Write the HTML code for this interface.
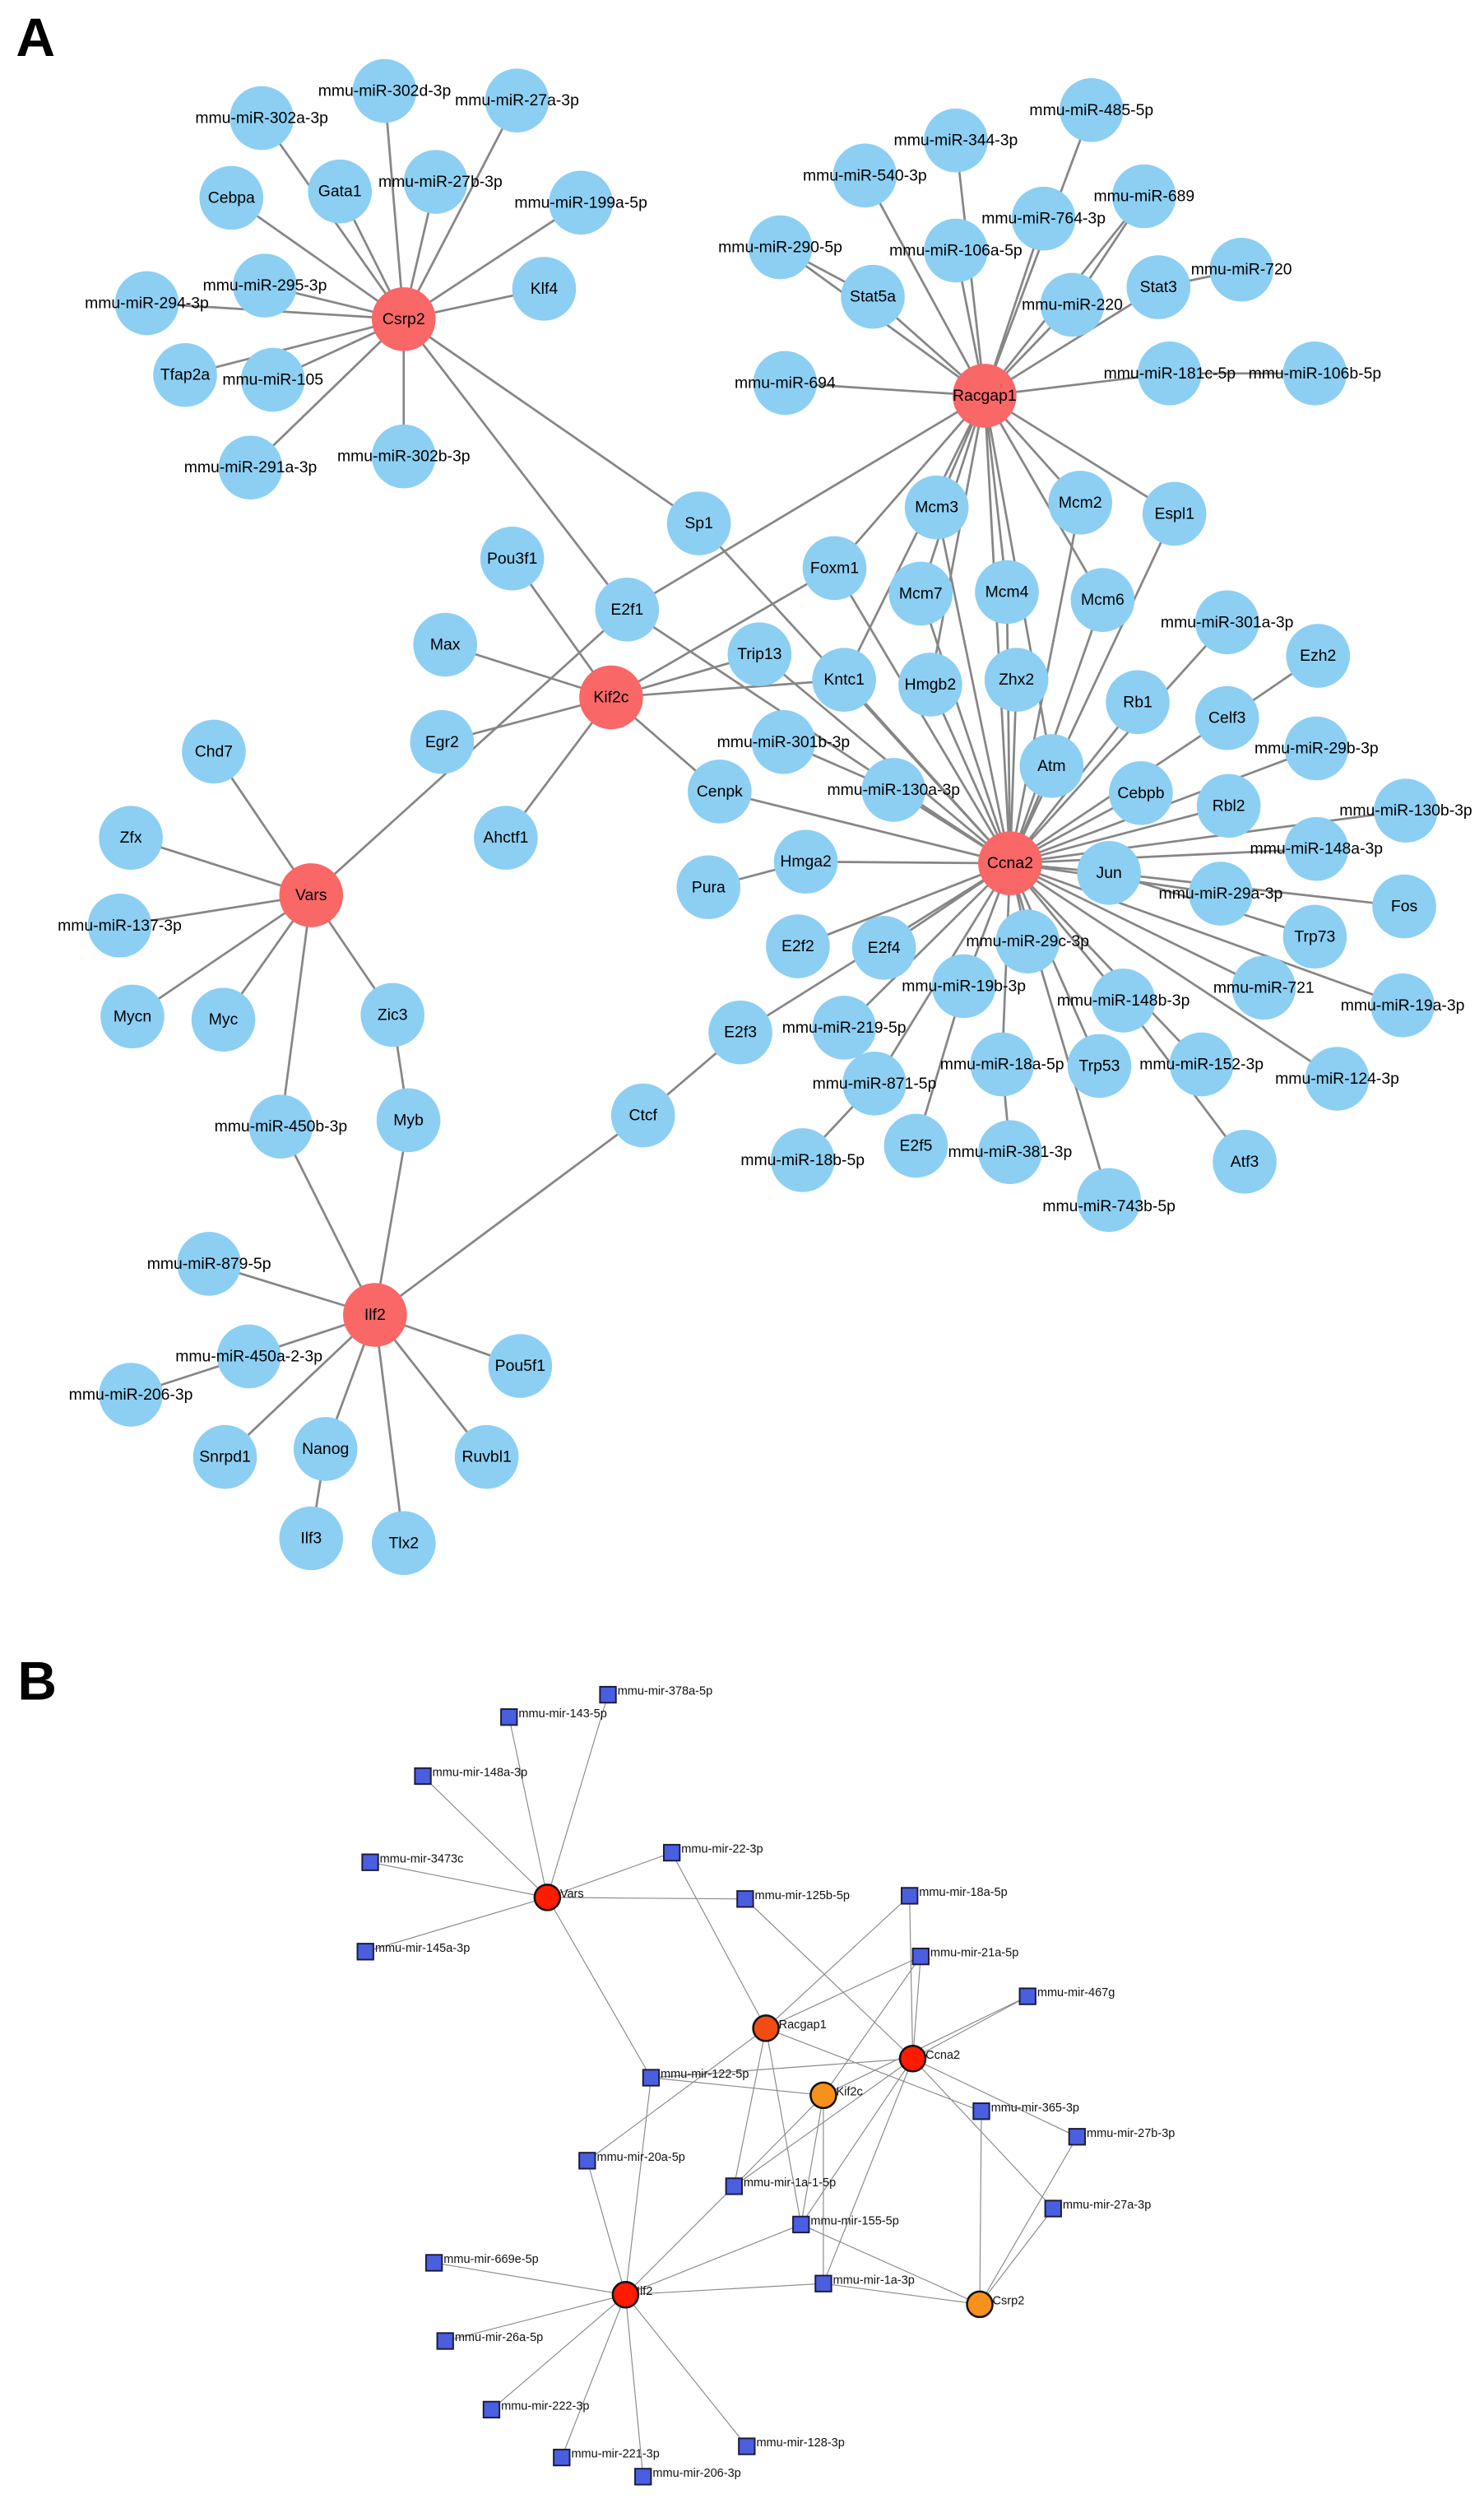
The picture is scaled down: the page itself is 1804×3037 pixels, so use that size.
<!DOCTYPE html>
<html><head><meta charset="utf-8"><style>
html,body{margin:0;padding:0;background:#fff}
svg{display:block}
text{font-family:"Liberation Sans",Arial,sans-serif}
</style></head><body>
<svg width="1804" height="3037" viewBox="0 0 930 1566" preserveAspectRatio="none" xmlns="http://www.w3.org/2000/svg">
<rect width="930" height="1566" fill="#fff"/>
<text x="10" y="35" font-size="34" font-weight="bold">A</text>
<text x="11" y="1065" font-size="34" font-weight="bold">B</text>

<g stroke="#868686" stroke-width="1.4" fill="none">
<!-- Csrp2 -->
<path d="M253,200L164,74M253,200L241,57M253,200L324,63M253,200L145,124M253,200L213,120M253,200L273,114M253,200L364,127M253,200L166,179M253,200L92,190M253,200L341,181M253,200L116,235M253,200L171,238M253,200L157,293M253,200L253,286M253,200L438,328M253,200L393,382"/>
<!-- Racgap1 -->
<path d="M617,248L684,69M617,248L599,88M617,248L542,110M617,248L717,123M617,248L654,137M617,248L489,155M617,248L599,157M617,248L547,186M617,248L726,180M617,248L672,191M617,248L492,240M617,248L733,234M733,234L824,234M726,180L778,169M547,186L489,155M672,191L717,123M617,248L587,318M617,248L677,315M617,248L736,322M617,248L691,376M617,248L523,356M617,248L393,382M617,248L631,371M617,248L577,372M617,248L583,429M617,248L633,541M617,248L529,426M617,248L659,480"/>
<!-- Kif2c -->
<path d="M383,437L321,350M383,437L279,404M383,437L277,465M383,437L317,525M383,437L451,496M383,437L476,410M383,437L529,426M383,437L523,356"/>
<!-- Ccna2 -->
<path d="M633,541L587,318M633,541L577,372M633,541L631,371M633,541L677,315M633,541L691,376M633,541L736,322M633,541L583,429M633,541L637,426M633,541L659,480M633,541L713,440M633,541L769,390M633,541L769,450M769,450L826,411M633,541L715,497M633,541L825,469M633,541L770,505M633,541L881,508M633,541L825,532M633,541L695,547M695,547L880,568M695,547L824,587M633,541L765,560M633,541L792,619M633,541L879,630M633,541L838,676M633,541L753,667M633,541L704,627M704,627L780,728M633,541L689,668M633,541L695,752M633,541L628,667M628,667L633,722M633,541L644,590M633,541L604,618M604,618L574,718M633,541L529,644M633,541L548,679M548,679L503,727M633,541L554,594M633,541L500,593M633,541L464,647M633,541L505,540M505,540L444,556M633,541L451,496M633,541L560,495M560,495L491,465M633,541L529,426M633,541L476,410M633,541L523,356M633,541L438,328M633,541L393,382"/>
<!-- Vars / Ilf2 -->
<path d="M195,561L134,471M195,561L82,525M195,561L75,580M195,561L83,637M195,561L140,639M195,561L246,636M246,636L256,702M195,561L176,706M195,561L393,382M235,824L176,706M235,824L256,702M235,824L403,699M403,699L464,647M235,824L131,792M235,824L156,850M156,850L82,874M235,824L326,856M235,824L141,913M235,824L204,908M204,908L195,964M235,824L253,967M235,824L305,913"/>
</g>

<g fill="#8ccff3">
<circle cx="164" cy="74" r="20"/><circle cx="241" cy="57" r="20"/><circle cx="324" cy="63" r="20"/><circle cx="145" cy="124" r="20"/><circle cx="213" cy="120" r="20"/><circle cx="273" cy="114" r="20"/><circle cx="364" cy="127" r="20"/><circle cx="166" cy="179" r="20"/><circle cx="92" cy="190" r="20"/><circle cx="341" cy="181" r="20"/><circle cx="116" cy="235" r="20"/><circle cx="171" cy="238" r="20"/><circle cx="157" cy="293" r="20"/><circle cx="253" cy="286" r="20"/><circle cx="438" cy="328" r="20"/><circle cx="393" cy="382" r="20"/>
<circle cx="684" cy="69" r="20"/><circle cx="599" cy="88" r="20"/><circle cx="542" cy="110" r="20"/><circle cx="717" cy="123" r="20"/><circle cx="654" cy="137" r="20"/><circle cx="489" cy="155" r="20"/><circle cx="599" cy="157" r="20"/><circle cx="547" cy="186" r="20"/><circle cx="778" cy="169" r="20"/><circle cx="726" cy="180" r="20"/><circle cx="672" cy="191" r="20"/><circle cx="492" cy="240" r="20"/><circle cx="733" cy="234" r="20"/><circle cx="824" cy="234" r="20"/>
<circle cx="587" cy="318" r="20"/><circle cx="677" cy="315" r="20"/><circle cx="736" cy="322" r="20"/><circle cx="523" cy="356" r="20"/><circle cx="577" cy="372" r="20"/><circle cx="631" cy="371" r="20"/><circle cx="691" cy="376" r="20"/>
<circle cx="321" cy="350" r="20"/><circle cx="279" cy="404" r="20"/><circle cx="277" cy="465" r="20"/><circle cx="317" cy="525" r="20"/><circle cx="476" cy="410" r="20"/><circle cx="529" cy="426" r="20"/><circle cx="583" cy="429" r="20"/><circle cx="637" cy="426" r="20"/><circle cx="659" cy="480" r="20"/><circle cx="713" cy="440" r="20"/><circle cx="769" cy="390" r="20"/><circle cx="826" cy="411" r="20"/><circle cx="769" cy="450" r="20"/><circle cx="825" cy="469" r="20"/><circle cx="715" cy="497" r="20"/><circle cx="770" cy="505" r="20"/><circle cx="881" cy="508" r="20"/><circle cx="825" cy="532" r="20"/><circle cx="491" cy="465" r="20"/><circle cx="560" cy="495" r="20"/><circle cx="451" cy="496" r="20"/><circle cx="505" cy="540" r="20"/><circle cx="444" cy="556" r="20"/><circle cx="695" cy="547" r="20"/><circle cx="880" cy="568" r="20"/><circle cx="765" cy="560" r="20"/><circle cx="824" cy="587" r="20"/><circle cx="792" cy="619" r="20"/><circle cx="879" cy="630" r="20"/><circle cx="838" cy="676" r="20"/><circle cx="753" cy="667" r="20"/><circle cx="780" cy="728" r="20"/><circle cx="704" cy="627" r="20"/><circle cx="689" cy="668" r="20"/><circle cx="695" cy="752" r="20"/><circle cx="628" cy="667" r="20"/><circle cx="633" cy="722" r="20"/><circle cx="574" cy="718" r="20"/><circle cx="644" cy="590" r="20"/><circle cx="604" cy="618" r="20"/><circle cx="529" cy="644" r="20"/><circle cx="548" cy="679" r="20"/><circle cx="503" cy="727" r="20"/><circle cx="554" cy="594" r="20"/><circle cx="500" cy="593" r="20"/><circle cx="464" cy="647" r="20"/>
<circle cx="134" cy="471" r="20"/><circle cx="82" cy="525" r="20"/><circle cx="75" cy="580" r="20"/><circle cx="83" cy="637" r="20"/><circle cx="140" cy="639" r="20"/><circle cx="246" cy="636" r="20"/><circle cx="176" cy="706" r="20"/><circle cx="256" cy="702" r="20"/><circle cx="403" cy="699" r="20"/><circle cx="131" cy="792" r="20"/><circle cx="156" cy="850" r="20"/><circle cx="82" cy="874" r="20"/><circle cx="326" cy="856" r="20"/><circle cx="141" cy="913" r="20"/><circle cx="204" cy="908" r="20"/><circle cx="195" cy="964" r="20"/><circle cx="253" cy="967" r="20"/><circle cx="305" cy="913" r="20"/>
</g>
<g fill="#f96767">
<circle cx="253" cy="200" r="20"/><circle cx="617" cy="248" r="20"/><circle cx="383" cy="437" r="20"/><circle cx="633" cy="541" r="20"/><circle cx="195" cy="561" r="20"/><circle cx="235" cy="824" r="20"/>
</g>

<g font-size="10" text-anchor="middle" fill="#000" dominant-baseline="central">
<text x="253" y="200">Csrp2</text><text x="617" y="248">Racgap1</text><text x="383" y="437">Kif2c</text><text x="633" y="541">Ccna2</text><text x="195" y="561">Vars</text><text x="235" y="824">Ilf2</text>
<text x="164" y="74">mmu-miR-302a-3p</text><text x="241" y="57">mmu-miR-302d-3p</text><text x="324" y="63">mmu-miR-27a-3p</text><text x="145" y="124">Cebpa</text><text x="213" y="120">Gata1</text><text x="276" y="114">mmu-miR-27b-3p</text><text x="364" y="127">mmu-miR-199a-5p</text><text x="166" y="179">mmu-miR-295-3p</text><text x="92" y="190">mmu-miR-294-3p</text><text x="341" y="181">Klf4</text><text x="116" y="235">Tfap2a</text><text x="171" y="238">mmu-miR-105</text><text x="157" y="293">mmu-miR-291a-3p</text><text x="253" y="286">mmu-miR-302b-3p</text><text x="438" y="328">Sp1</text><text x="393" y="382">E2f1</text>
<text x="684" y="69">mmu-miR-485-5p</text><text x="599" y="88">mmu-miR-344-3p</text><text x="542" y="110">mmu-miR-540-3p</text><text x="717" y="123">mmu-miR-689</text><text x="654" y="137">mmu-miR-764-3p</text><text x="489" y="155">mmu-miR-290-5p</text><text x="599" y="157">mmu-miR-106a-5p</text><text x="547" y="186">Stat5a</text><text x="778" y="169">mmu-miR-720</text><text x="726" y="180">Stat3</text><text x="672" y="191">mmu-miR-220</text><text x="492" y="240">mmu-miR-694</text><text x="733" y="234">mmu-miR-181c-5p</text><text x="824" y="234">mmu-miR-106b-5p</text>
<text x="587" y="318">Mcm3</text><text x="677" y="315">Mcm2</text><text x="736" y="322">Espl1</text><text x="523" y="356">Foxm1</text><text x="577" y="372">Mcm7</text><text x="631" y="371">Mcm4</text><text x="691" y="376">Mcm6</text>
<text x="321" y="350">Pou3f1</text><text x="279" y="404">Max</text><text x="277" y="465">Egr2</text><text x="317" y="525">Ahctf1</text><text x="476" y="410">Trip13</text><text x="529" y="426">Kntc1</text><text x="583" y="429">Hmgb2</text><text x="637" y="426">Zhx2</text><text x="659" y="480">Atm</text><text x="713" y="440">Rb1</text><text x="769" y="390">mmu-miR-301a-3p</text><text x="826" y="411">Ezh2</text><text x="769" y="450">Celf3</text><text x="825" y="469">mmu-miR-29b-3p</text><text x="715" y="497">Cebpb</text><text x="770" y="505">Rbl2</text><text x="881" y="508">mmu-miR-130b-3p</text><text x="825" y="532">mmu-miR-148a-3p</text><text x="491" y="465">mmu-miR-301b-3p</text><text x="560" y="495">mmu-miR-130a-3p</text><text x="451" y="496">Cenpk</text><text x="505" y="540">Hmga2</text><text x="444" y="556">Pura</text><text x="695" y="547">Jun</text><text x="880" y="568">Fos</text><text x="765" y="560">mmu-miR-29a-3p</text><text x="824" y="587">Trp73</text><text x="792" y="619">mmu-miR-721</text><text x="879" y="630">mmu-miR-19a-3p</text><text x="838" y="676">mmu-miR-124-3p</text><text x="753" y="667">mmu-miR-152-3p</text><text x="780" y="728">Atf3</text><text x="704" y="627">mmu-miR-148b-3p</text><text x="689" y="668">Trp53</text><text x="695" y="756">mmu-miR-743b-5p</text><text x="628" y="667">mmu-miR-18a-5p</text><text x="633" y="722">mmu-miR-381-3p</text><text x="574" y="718">E2f5</text><text x="644" y="590">mmu-miR-29c-3p</text><text x="604" y="618">mmu-miR-19b-3p</text><text x="529" y="644">mmu-miR-219-5p</text><text x="548" y="679">mmu-miR-871-5p</text><text x="503" y="727">mmu-miR-18b-5p</text><text x="554" y="594">E2f4</text><text x="500" y="593">E2f2</text><text x="464" y="647">E2f3</text>
<text x="134" y="471">Chd7</text><text x="82" y="525">Zfx</text><text x="75" y="580">mmu-miR-137-3p</text><text x="83" y="637">Mycn</text><text x="140" y="639">Myc</text><text x="246" y="636">Zic3</text><text x="176" y="706">mmu-miR-450b-3p</text><text x="256" y="702">Myb</text><text x="403" y="699">Ctcf</text><text x="131" y="792">mmu-miR-879-5p</text><text x="156" y="850">mmu-miR-450a-2-3p</text><text x="82" y="874">mmu-miR-206-3p</text><text x="326" y="856">Pou5f1</text><text x="141" y="913">Snrpd1</text><text x="204" y="908">Nanog</text><text x="195" y="964">Ilf3</text><text x="253" y="967">Tlx2</text><text x="305" y="913">Ruvbl1</text>
</g>

<!-- Panel B -->
<g stroke="#8a8a8a" stroke-width="0.6" fill="none">
<path d="M343,1189L381,1062M343,1189L319,1076M343,1189L265,1113M343,1189L232,1167M343,1189L421,1161M343,1189L467,1190M343,1189L229,1223M343,1189L408,1302
M480,1271L421,1161M480,1271L570,1188M480,1271L577,1226M480,1271L615,1323M480,1271L368,1354M480,1271L460,1370M480,1271L502,1394
M572,1290L467,1190M572,1290L570,1188M572,1290L577,1226M572,1290L644,1251M572,1290L408,1302M572,1290L675,1339M572,1290L660,1384M572,1290L460,1370M572,1290L502,1394M572,1290L516,1431
M516,1313L408,1302M516,1313L577,1226M516,1313L644,1251M516,1313L460,1370M516,1313L502,1394M516,1313L516,1431
M392,1438L408,1302M392,1438L368,1354M392,1438L460,1370M392,1438L502,1394M392,1438L516,1431M392,1438L272,1418M392,1438L279,1467M392,1438L308,1510M392,1438L352,1540M392,1438L403,1552M392,1438L468,1533
M614,1444L516,1431M614,1444L502,1394M614,1444L615,1323M614,1444L675,1339M614,1444L660,1384"/>
</g>
<g fill="#4a5ee0" stroke="#1b1b3a" stroke-width="1">
<rect x="376" y="1057" width="10" height="10"/><rect x="314" y="1071" width="10" height="10"/><rect x="260" y="1108" width="10" height="10"/><rect x="227" y="1162" width="10" height="10"/><rect x="416" y="1156" width="10" height="10"/><rect x="462" y="1185" width="10" height="10"/><rect x="565" y="1183" width="10" height="10"/><rect x="224" y="1218" width="10" height="10"/><rect x="572" y="1221" width="10" height="10"/><rect x="639" y="1246" width="10" height="10"/><rect x="403" y="1297" width="10" height="10"/><rect x="610" y="1318" width="10" height="10"/><rect x="670" y="1334" width="10" height="10"/><rect x="363" y="1349" width="10" height="10"/><rect x="455" y="1365" width="10" height="10"/><rect x="655" y="1379" width="10" height="10"/><rect x="497" y="1389" width="10" height="10"/><rect x="267" y="1413" width="10" height="10"/><rect x="511" y="1426" width="10" height="10"/><rect x="274" y="1462" width="10" height="10"/><rect x="303" y="1505" width="10" height="10"/><rect x="347" y="1535" width="10" height="10"/><rect x="463" y="1528" width="10" height="10"/><rect x="398" y="1547" width="10" height="10"/>
</g>
<g stroke="#111" stroke-width="1.3">
<circle cx="343" cy="1189" r="8" fill="#ff1a00"/><circle cx="480" cy="1271" r="8" fill="#f04c14"/><circle cx="572" cy="1290" r="8" fill="#ff1a00"/><circle cx="516" cy="1313" r="8" fill="#f7901c"/><circle cx="392" cy="1438" r="8" fill="#ff1a00"/><circle cx="614" cy="1444" r="8" fill="#f7901c"/>
</g>
<g font-size="7.5" fill="#111" dominant-baseline="central">
<text x="351" y="1187">Vars</text><text x="488" y="1269">Racgap1</text><text x="580" y="1288">Ccna2</text><text x="524" y="1311">Kif2c</text><text x="399" y="1436">Ilf2</text><text x="622" y="1442">Csrp2</text>
<text x="387" y="1060">mmu-mir-378a-5p</text><text x="325" y="1074">mmu-mir-143-5p</text><text x="271" y="1111">mmu-mir-148a-3p</text><text x="238" y="1165">mmu-mir-3473c</text><text x="427" y="1159">mmu-mir-22-3p</text><text x="473" y="1188">mmu-mir-125b-5p</text><text x="576" y="1186">mmu-mir-18a-5p</text><text x="235" y="1221">mmu-mir-145a-3p</text><text x="583" y="1224">mmu-mir-21a-5p</text><text x="650" y="1249">mmu-mir-467g</text><text x="414" y="1300">mmu-mir-122-5p</text><text x="621" y="1321">mmu-mir-365-3p</text><text x="681" y="1337">mmu-mir-27b-3p</text><text x="374" y="1352">mmu-mir-20a-5p</text><text x="466" y="1368">mmu-mir-1a-1-5p</text><text x="666" y="1382">mmu-mir-27a-3p</text><text x="508" y="1392">mmu-mir-155-5p</text><text x="278" y="1416">mmu-mir-669e-5p</text><text x="522" y="1429">mmu-mir-1a-3p</text><text x="285" y="1465">mmu-mir-26a-5p</text><text x="314" y="1508">mmu-mir-222-3p</text><text x="358" y="1538">mmu-mir-221-3p</text><text x="474" y="1531">mmu-mir-128-3p</text><text x="409" y="1550">mmu-mir-206-3p</text>
</g>
</svg>
</body></html>
